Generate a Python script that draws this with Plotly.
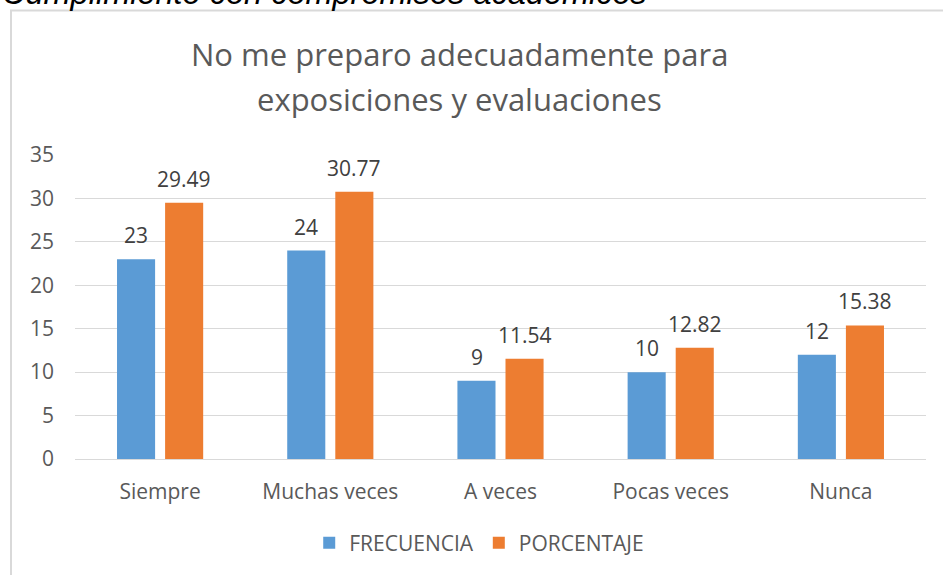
import plotly.graph_objects as go

categories = ["Siempre", "Muchas veces", "A veces", "Pocas veces", "Nunca"]
frecuencia = [23, 24, 9, 10, 12]
porcentaje = [29.49, 30.77, 11.54, 12.82, 15.38]
frec_labels = ["23", "24", "9", "10", "12"]
porc_labels = ["29.49", "30.77", "11.54", "12.82", "15.38"]
y_ticks = [0, 5, 10, 15, 20, 25, 30, 35]

BLUE = "#5B9BD5"
ORANGE = "#ED7D31"
FONT = "Open Sans"
GRAY = "#595959"

fig = go.Figure()
fig.add_trace(go.Bar(x=categories, y=frecuencia, name="FRECUENCIA", marker=dict(color=BLUE, line=dict(width=0))))
fig.add_trace(go.Bar(x=categories, y=porcentaje, name="PORCENTAJE", marker=dict(color=ORANGE, line=dict(width=0))))

annotations = []
for c, v, t in zip(categories, frecuencia, frec_labels):
    annotations.append(dict(x=c, y=v, xref="x", yref="y", text=t, showarrow=False,
                            xshift=-24, yshift=24, yanchor="middle",
                            font=dict(family=FONT, size=21, color="#404040")))
for c, v, t in zip(categories, porcentaje, porc_labels):
    annotations.append(dict(x=c, y=v, xref="x", yref="y", text=t, showarrow=False,
                            xshift=24, yshift=24, yanchor="middle",
                            font=dict(family=FONT, size=21, color="#404040")))

# titles
annotations.append(dict(x=0.4524, y=(459 - 54) / 304, xref="paper", yref="paper",
                        text="No me preparo adecuadamente para", showarrow=False,
                        xanchor="center", yanchor="middle",
                        font=dict(family=FONT, size=31, color=GRAY)))
annotations.append(dict(x=0.4524, y=(459 - 99) / 304, xref="paper", yref="paper",
                        text="exposiciones y evaluaciones", showarrow=False,
                        xanchor="center", yanchor="middle",
                        font=dict(family=FONT, size=31, color=GRAY)))
# cut-off caption at the top (the reference shows it clipped by the image edge)
annotations.append(dict(x=(0 - 75) / 851, y=(459 - 13) / 304, xref="paper", yref="paper",
                        text="<i>Cumplimiento con compromisos académicos</i>", showarrow=False,
                        xanchor="left", yanchor="bottom",
                        font=dict(family="Liberation Sans", size=32.5, color="#000000")))

fig.update_layout(
    width=943, height=575,
    margin=dict(l=75, r=17, t=155, b=116),
    paper_bgcolor="white", plot_bgcolor="white",
    barmode="group", bargap=0.435, bargroupgap=0.208,
    showlegend=True,
    legend=dict(orientation="h", x=0.475, xanchor="center", y=(459 - 543) / 304, yanchor="middle",
                font=dict(family=FONT, size=21, color=GRAY), traceorder="normal", itemwidth=30),
    annotations=annotations,
    shapes=[dict(type="rect", xref="paper", yref="paper",
                 x0=(11 - 75) / 851, x1=1.2, y0=-0.6, y1=(459 - 10.5) / 304,
                 line=dict(color="#d9d9d9", width=2), layer="below")],
)
fig.update_xaxes(showgrid=False, showline=False, ticks="", ticklabelstandoff=18,
                 tickfont=dict(family=FONT, size=21, color=GRAY))
fig.update_yaxes(range=[0, 35], tickvals=y_ticks, showgrid=True, gridcolor="#d9d9d9", gridwidth=1,
                 zeroline=True, zerolinecolor="#d9d9d9", zerolinewidth=1, showline=False, ticks="",
                 ticklabelstandoff=20, tickfont=dict(family=FONT, size=21, color=GRAY))

fig.write_html("out.html", config={"displayModeBar": False},
               post_script="document.body.style.margin='0';document.body.style.overflow='hidden';")
